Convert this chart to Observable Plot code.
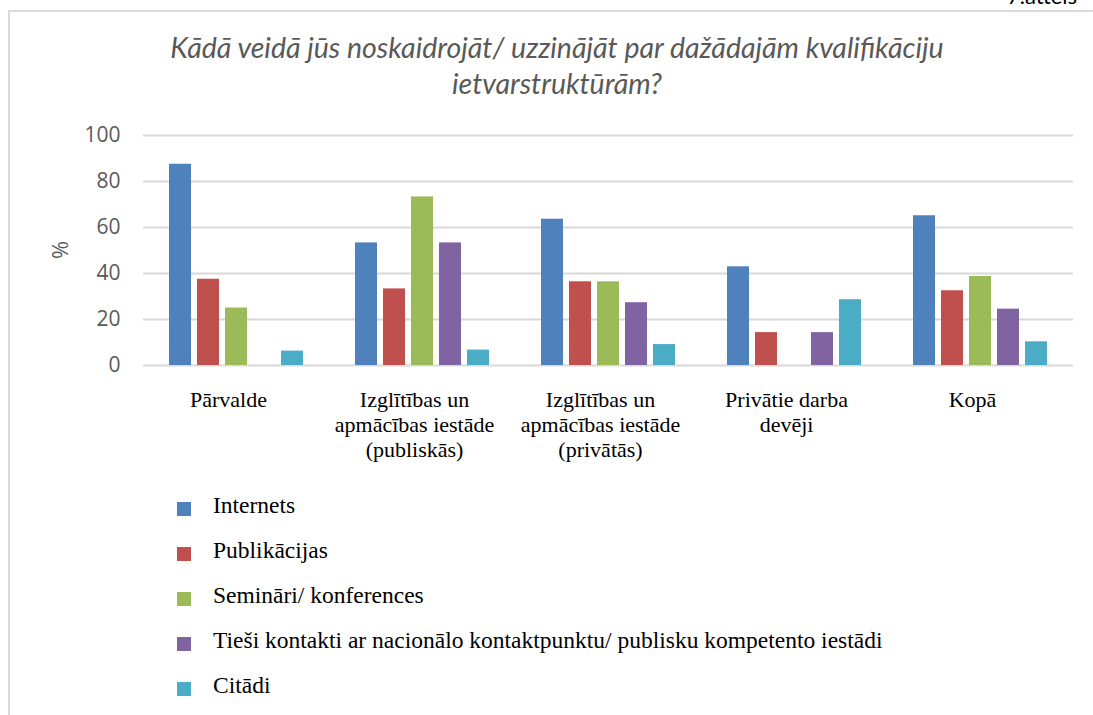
<!DOCTYPE html>
<html>
<head>
<meta charset="utf-8">
<script src="https://cdn.jsdelivr.net/npm/d3@7"></script>
<script src="https://cdn.jsdelivr.net/npm/@observablehq/plot@0.6"></script>
<style>
  html, body { margin: 0; padding: 0; background: #fff; }
  body { width: 1093px; height: 715px; position: relative; overflow: hidden; }
  #frame { position: absolute; left: 8px; top: 10px; width: 1200px; height: 800px; border: 2px solid #d9d9d9; box-sizing: border-box; }
  #fig { position: absolute; left: 1007px; top: -17px; font-family: Lato, sans-serif; font-size: 22px; color: #000; white-space: nowrap; line-height: 26px; }
  #title { position: absolute; left: 57px; width: 1000px; top: 29px; text-align: center; font-family: Lato, sans-serif; font-style: italic; font-size: 28.5px; line-height: 36px; color: #595959; }
  #chart { position: absolute; left: 0; top: 0; }
  #ylabel { position: absolute; left: 59px; top: 250px; transform: translate(-50%, -50%) rotate(-90deg); font-family: "Open Sans", sans-serif; font-size: 22px; color: #595959; }
  #legend { position: absolute; left: 0; top: 0; }
  .row { position: absolute; left: 177px; height: 26px; white-space: nowrap; }
  .sw { position: absolute; left: 0; width: 14px; height: 14px; }
  .lab { position: absolute; left: 36px; top: 0; font-family: "Liberation Serif", "Times New Roman", "DejaVu Serif", serif; font-size: 23.5px; line-height: 26px; color: #000; }
</style>
</head>
<body>
<div id="frame"></div>
<div id="fig">7.attēls</div>
<div id="title">Kādā veidā jūs noskaidrojāt/ uzzinājāt par dažādajām kvalifikāciju<br>ietvarstruktūrām?</div>
<div id="chart"></div>
<div id="ylabel">%</div>
<div id="legend"></div>
<script>
// Categories (x groups)
const categories = [
  "Pārvalde",
  "Izglītības un apmācības iestāde (publiskās)",
  "Izglītības un apmācības iestāde (privātās)",
  "Privātie darba devēji",
  "Kopā"
];
const categoryLabels = [
  "Pārvalde",
  "Izglītības un\napmācības iestāde\n(publiskās)",
  "Izglītības un\napmācības iestāde\n(privātās)",
  "Privātie darba\ndevēji",
  "Kopā"
];
// Series
const series = [
  "Internets",
  "Publikācijas",
  "Semināri/ konferences",
  "Tieši kontakti ar nacionālo kontaktpunktu/ publisku kompetento iestādi",
  "Citādi"
];
const colors = ["#4f81bd", "#c0504d", "#9bbb59", "#8064a2", "#4bacc6"];
// Values per series, in category order (%)
const internets     = [87.5, 53.3, 63.6, 42.9, 65.1];
const publikacijas  = [37.5, 33.3, 36.4, 14.3, 32.5];
const seminari      = [25.0, 73.3, 36.4, 0,    38.7];
const tiesiKontakti = [0,    53.3, 27.3, 14.3, 24.5];
const citadi        = [6.25, 6.7,  9.1,  28.6, 10.3];
const yTicks = [0, 20, 40, 60, 80, 100];

const seriesValues = [internets, publikacijas, seminari, tiesiKontakti, citadi];
const data = [];
categories.forEach((c, ci) => {
  series.forEach((s, si) => {
    data.push({category: c, series: s, value: seriesValues[si][ci]});
  });
});
const labelOf = new Map(categories.map((c, i) => [c, categoryLabels[i]]));

const chart = Plot.plot({
  width: 1093,
  height: 470,
  marginLeft: 141,
  marginRight: 18,
  marginTop: 135,
  marginBottom: 105,
  style: {background: "transparent"},
  fx: {domain: categories, padding: 0, label: null},
  x: {domain: series, paddingInner: 0.23, paddingOuter: 0.88, axis: null},
  y: {domain: [0, 100], label: null},
  color: {domain: series, range: colors},
  marks: [
    Plot.gridY(yTicks, {stroke: "#d9d9d9", strokeOpacity: 1, strokeWidth: 2}),
    Plot.barY(data.filter(d => d.value > 0), {fx: "category", x: "series", y: "value", fill: "series"}),
    Plot.axisY(yTicks, {tickSize: 0, tickPadding: 23, fontSize: 21, fontFamily: "Open Sans, sans-serif", fill: "#595959", label: null}),
    Plot.axisFx({anchor: "bottom", tickSize: 0, tickPadding: 24, dx: -8, fontSize: 22, lineHeight: 1.14, fontFamily: "'Liberation Serif', 'Times New Roman', 'DejaVu Serif', serif", fill: "#000", label: null, tickFormat: d => labelOf.get(d)})
  ]
});
document.getElementById("chart").appendChild(chart);

const legend = document.getElementById("legend");
series.forEach((s, i) => {
  const row = document.createElement("div");
  row.className = "row";
  row.style.top = (492 + i * 45) + "px";
  const sw = document.createElement("div");
  sw.className = "sw";
  sw.style.background = colors[i];
  sw.style.top = "10px";
  const lab = document.createElement("div");
  lab.className = "lab";
  lab.textContent = s;
  row.appendChild(sw);
  row.appendChild(lab);
  legend.appendChild(row);
});
</script>
</body>
</html>
